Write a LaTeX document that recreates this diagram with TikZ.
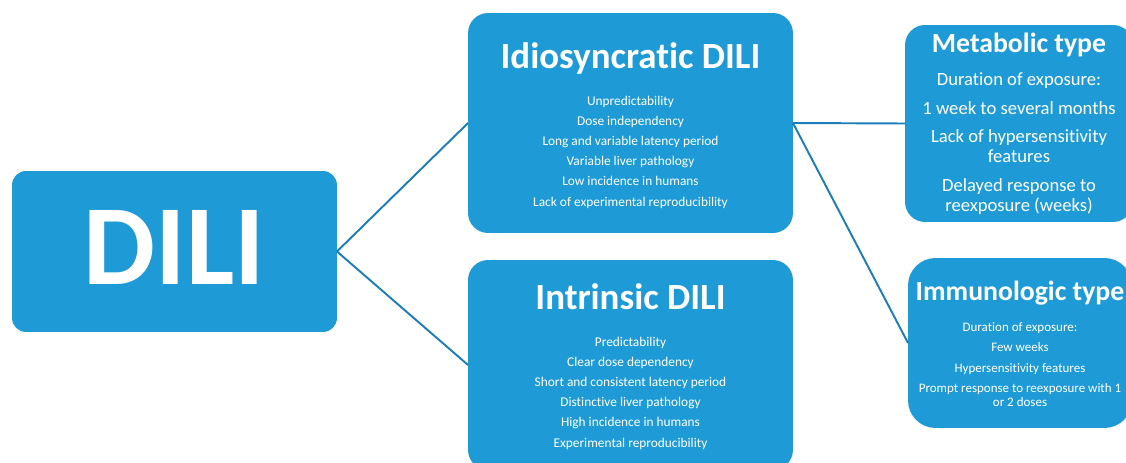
\documentclass[tikz,border=0pt]{standalone}
\usepackage{fontspec}
\setmainfont{Carlito}[Ligatures=CommonOff]
\definecolor{dilifill}{RGB}{30,155,215}
\definecolor{diliedge}{RGB}{28,125,185}
\begin{document}
\begin{tikzpicture}[x=0.02cm,y=-0.02cm,
    box/.style={fill=dilifill,inner sep=0pt,outer sep=0pt,rounded corners=0.4cm},
    bigtitle/.style={text=white,anchor=base,font=\bfseries\fontsize{21}{24}\selectfont},
    smalltitle/.style={text=white,anchor=base,font=\bfseries\fontsize{15.8}{18}\selectfont},
    body/.style={text=white,align=center,inner sep=0pt}]
  \useasboundingbox (0,0) rectangle (1126,463);
  \clip (0,0) rectangle (1126,463);
  % boxes
  \node[box,rounded corners=0.28cm,minimum width=6.5cm,minimum height=3.22cm] (dili) at (174.5,251.5) {};
  \node[box,minimum width=6.5cm,minimum height=4.4cm] (idio) at (630.5,123) {};
  \node[box,minimum width=6.5cm,minimum height=4.2cm] (intr) at (630.5,365) {};
  \node[box,minimum width=4.56cm,minimum height=3.94cm] (metab) at (1019,123.5) {};
  \node[box,rounded corners=0.55cm,minimum width=4.48cm,minimum height=3.4cm] (immu) at (1020,343) {};
  % texts
  \node[text=white,anchor=base,font=\bfseries\fontsize{65}{70}\selectfont] (dilititle) at (174.5,284) {DILI};
  \node[bigtitle] (idiotitle) at (630.5,68) {Idiosyncratic DILI};
  \node[body,font=\fontsize{7.6}{11.5}\selectfont] (idiotext) at (630.5,152)
    {Unpredictability\\Dose independency\\Long and variable latency period\\Variable liver pathology\\Low incidence in humans\\Lack of experimental reproducibility};
  \node[bigtitle] (intrtitle) at (630.5,309) {Intrinsic DILI};
  \node[body,font=\fontsize{7.6}{11.5}\selectfont] (intrtext) at (630.5,393)
    {Predictability\\Clear dose dependency\\Short and consistent latency period\\Distinctive liver pathology\\High incidence in humans\\Experimental reproducibility};
  \node[smalltitle] (metabtitle) at (1019,52) {Metabolic type};
  \node[body,font=\fontsize{10.6}{11.3}\selectfont] (metabtext) at (1019,143.5)
    {Duration of exposure:\\[5pt]1 week to several months\\[5pt]Lack of hypersensitivity\\features\\[5pt]Delayed response to\\reexposure (weeks)};
  \node[smalltitle] (immutitle) at (1020,300) {Immunologic type};
  \node[body,font=\fontsize{7.4}{7.9}\selectfont] (immutext) at (1020,364.5)
    {Duration of exposure:\\[3.7pt]Few weeks\\[3.7pt]Hypersensitivity features\\[3.7pt]Prompt response to reexposure with 1\\or 2 doses};
  % connectors
  \begin{scope}[draw=diliedge,line width=1.1pt]
    \draw (dili.east) -- (idio.west);
    \draw (dili.east) -- (intr.west);
    \draw (idio.east) -- (metab.west);
    \draw (idio.east) -- (immu.west);
  \end{scope}
\end{tikzpicture}
\end{document}
